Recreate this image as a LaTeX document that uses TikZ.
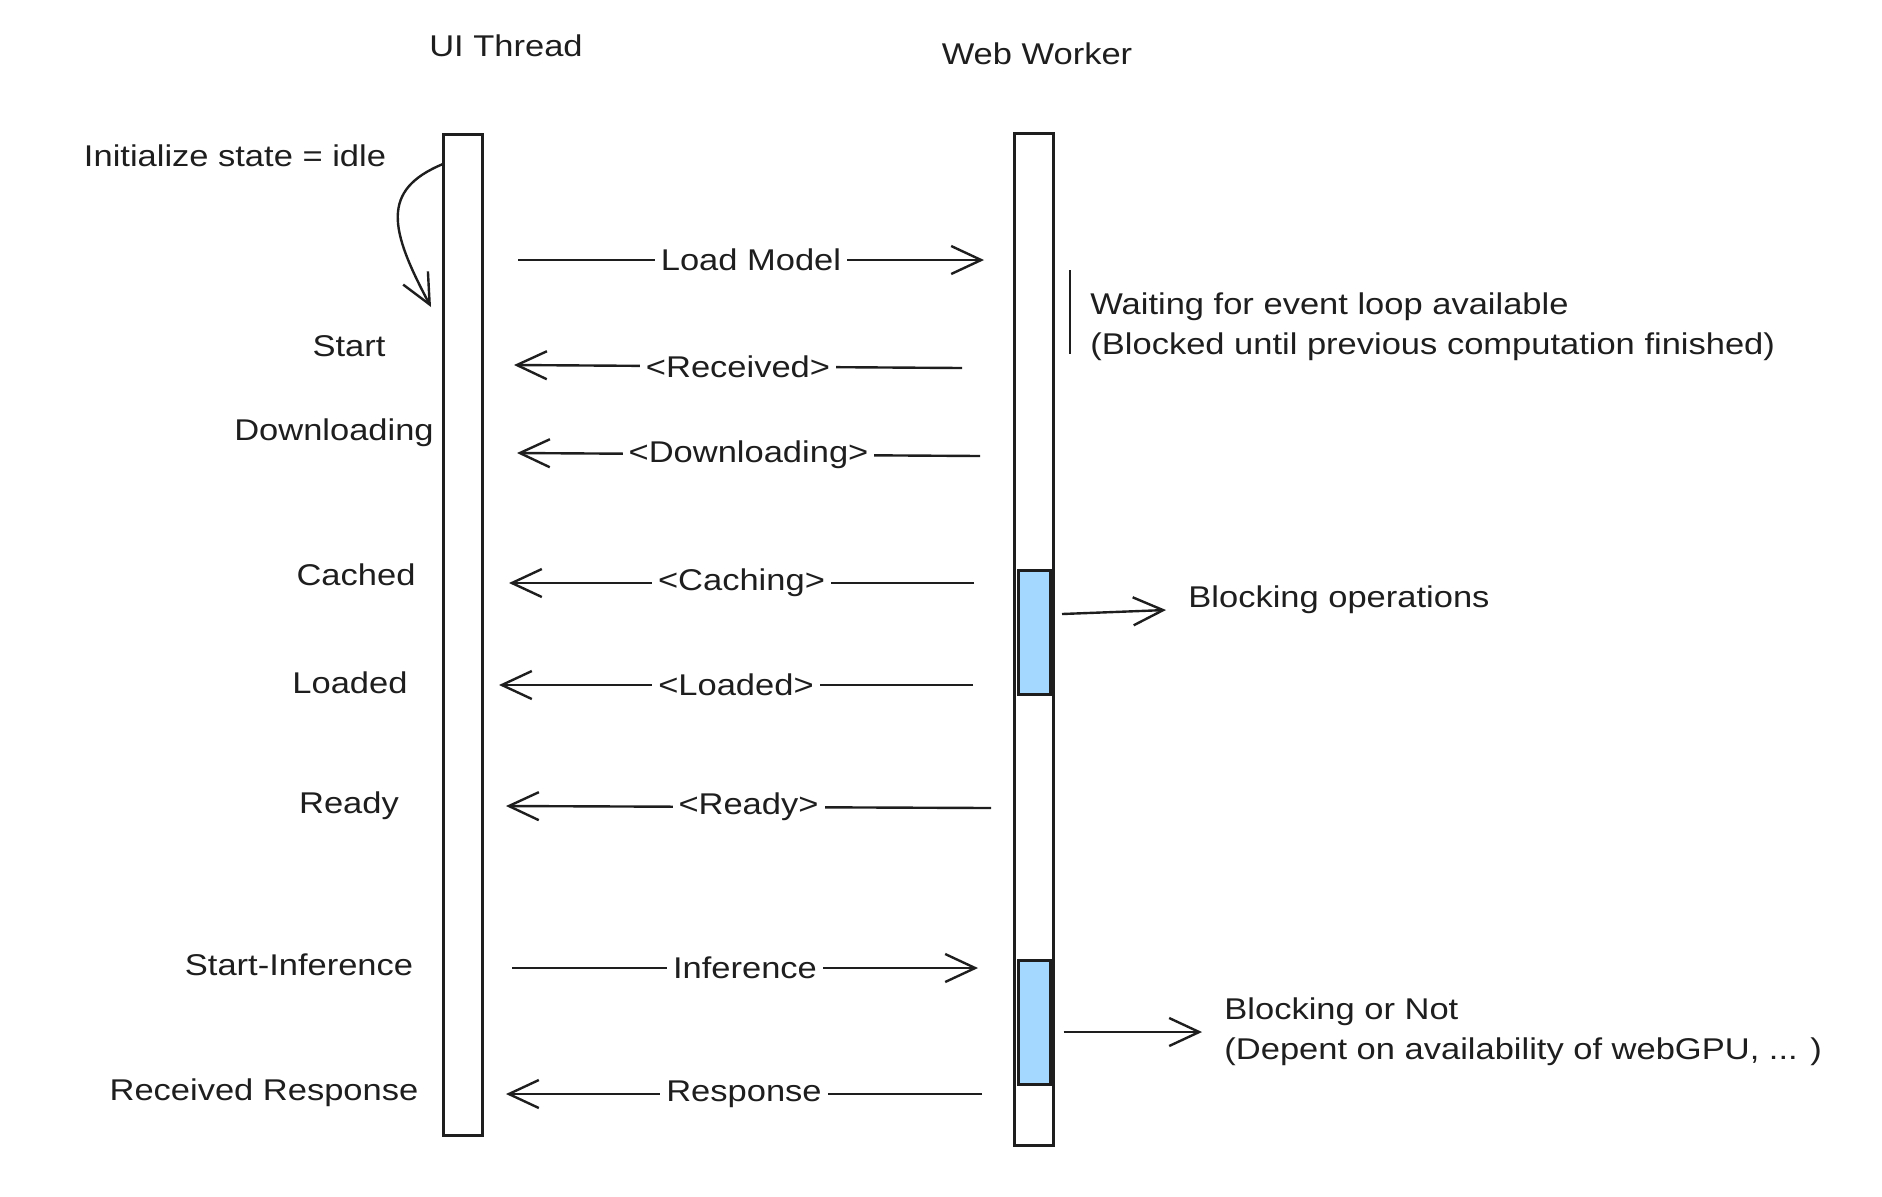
\documentclass[tikz,border=0pt]{standalone}
\usepackage{fontspec}
\setmainfont{Liberation Sans}[FakeStretch=1.15]
\usetikzlibrary{arrows.meta}
\definecolor{ink}{HTML}{1E1E1E}
\definecolor{blk}{HTML}{A5D8FF}
\tikzset{
  txt/.style={font=\fontsize{15}{20}\selectfont, text=ink, inner sep=1pt},
  lane/.style={draw=ink, line width=1.5pt, fill=white, inner sep=0pt, minimum width=19.5pt},
  blockbox/.style={draw=ink, line width=1.5pt, fill=blk, inner sep=0pt, minimum width=16pt},
  msg/.style={draw=ink, line width=1.2pt, -{Straight Barb[length=15pt,width=14pt,line width=1.2pt]}},
  lbl/.style={txt, fill=white, inner sep=3pt}
}
\begin{document}
\begin{tikzpicture}[x=0.5pt,y=-0.5pt]
\useasboundingbox (0,0) rectangle (1882,1196);
% lanes
\node[txt] (uih) at (506,46) {UI Thread};
\node[txt] (wwh) at (1037,54) {Web Worker};
\node[lane, minimum height=500.5pt] (ui) at (462.5,634.5) {};
\node[lane, minimum height=506pt] (ww) at (1033.5,639) {};
% blocking boxes
\node[blockbox, minimum height=62pt] (b1) at (1034.5,632) {};
\node[blockbox, minimum height=62pt] (b2) at (1034,1022) {};
% state labels
\node[txt] (init) at (235,156) {Initialize state = idle};
\node[txt] (st) at (349,346) {Start};
\node[txt] (dl) at (334,433) {Downloading};
\node[txt] (ca) at (356,575) {Cached};
\node[txt] (lo) at (350,683) {Loaded};
\node[txt] (re) at (349,806) {Ready};
\node[txt] (si) at (299,965) {Start-Inference};
\node[txt] (rr) at (264,1093) {Received Response};
% self arrow
\coordinate (s0) at (443,164);
\coordinate (s1) at (431,307);
\draw[msg] (s0) .. controls (380,190) and (390,230) .. (s1);
% messages
\coordinate (m1a) at (518,260); \coordinate (m1b) at (984,260);
\draw[msg] (m1a) -- node[lbl] {Load Model} (m1b);
\coordinate (m2a) at (962,368); \coordinate (m2b) at (514,365);
\draw[msg] (m2a) -- node[lbl] {<Received>} (m2b);
\coordinate (m3a) at (980,456); \coordinate (m3b) at (517,453);
\draw[msg] (m3a) -- node[lbl] {<Downloading>} (m3b);
\coordinate (m4a) at (974,583); \coordinate (m4b) at (509,583);
\draw[msg] (m4a) -- node[lbl] {<Caching>} (m4b);
\coordinate (m5a) at (973,685); \coordinate (m5b) at (499,685);
\draw[msg] (m5a) -- node[lbl] {<Loaded>} (m5b);
\coordinate (m6a) at (991,808); \coordinate (m6b) at (506,806);
\draw[msg] (m6a) -- node[lbl] {<Ready>} (m6b);
\coordinate (m7a) at (512,968); \coordinate (m7b) at (978,968);
\draw[msg] (m7a) -- node[lbl] {Inference} (m7b);
\coordinate (m8a) at (982,1094); \coordinate (m8b) at (506,1094);
\draw[msg] (m8a) -- node[lbl] {Response} (m8b);
% waiting note
\coordinate (w0) at (1070,270); \coordinate (w1) at (1070,354);
\draw[ink, line width=1.2pt] (w0) -- (w1);
\node[txt, anchor=west, align=left] (wait) at (1088,327) {Waiting for event loop available\\(Blocked until previous computation finished)};
% blocking notes
\node[txt, anchor=west] (bo) at (1186,600) {Blocking operations};
\draw[msg] (b1.east) ++(10,-18) coordinate (a1) (a1) -- (1166,610) coordinate (a1e);
\node[txt, anchor=west, align=left] (bn) at (1222,1032) {Blocking or Not\\(Depent on availability of webGPU, ... )};
\draw[msg] (b2.east) ++(12,10) coordinate (a2) (a2) -- (1202,1032) coordinate (a2e);
\end{tikzpicture}
\end{document}
